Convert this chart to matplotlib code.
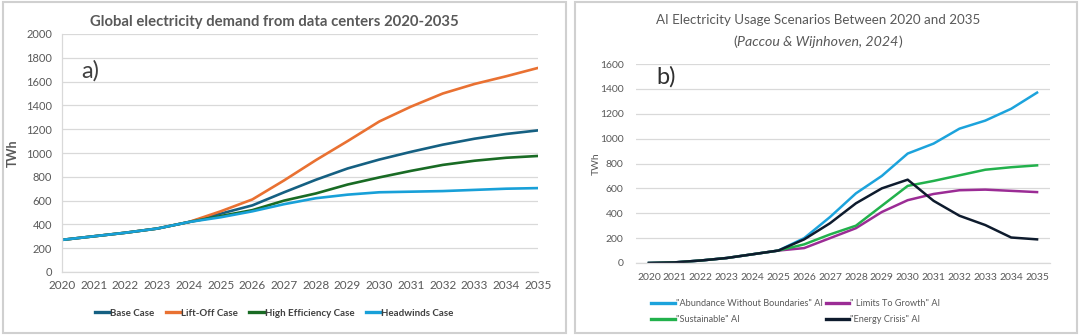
import matplotlib.pyplot as plt
from matplotlib.lines import Line2D
from matplotlib.patches import Rectangle

# --- panel a: data-center demand (TWh) ---
YEARS = list(range(2020, 2036))
BASE = [270, 300, 330, 365, 420, 490, 560, 670, 775, 870, 945, 1010, 1070, 1120, 1160, 1190]
LIFT_OFF = [270, 300, 330, 365, 420, 510, 610, 770, 940, 1100, 1265, 1390, 1500, 1580, 1645, 1715]
HIGH_EFF = [270, 300, 330, 365, 420, 470, 520, 600, 660, 735, 795, 850, 900, 935, 960, 975]
HEADWINDS = [270, 300, 330, 365, 420, 460, 510, 570, 620, 650, 670, 675, 680, 690, 700, 705]
A_LABELS = ["Base Case", "Lift-Off Case", "High Efficiency Case", "Headwinds Case"]

# --- panel b: AI usage scenarios (TWh) ---
ABUNDANCE = [0, 5, 20, 40, 70, 100, 200, 370, 560, 700, 880, 960, 1080, 1145, 1240, 1370]
LIMITS = [0, 5, 20, 40, 70, 100, 120, 200, 280, 410, 505, 555, 585, 590, 580, 570]
SUSTAINABLE = [0, 5, 20, 40, 70, 100, 150, 230, 300, 460, 620, 660, 705, 750, 770, 785]
CRISIS = [0, 5, 20, 40, 70, 100, 190, 320, 480, 600, 670, 500, 380, 305, 205, 190]
B_LABELS = ['"Abundance Without Boundaries" AI', '" Limits To Growth" AI',
            '"Sustainable" AI', '"Energy Crisis" AI']

A_COLORS = ["#156082", "#E97132", "#196B24", "#18A0D8"]
B_COLORS = ["#1CA3DC", "#9B2C95", "#22B14C", "#0E1B2D"]
GRID = "#d9d9d9"
TXT = "#595959"

plt.rcParams["font.family"] = ["Lato", "DejaVu Sans"]

fig = plt.figure(figsize=(10.8, 3.36), dpi=100)
fig.patch.set_facecolor("white")

# panel frames
for x0, w in [(0.003, 0.521), (0.532, 0.465)]:
    fig.add_artist(Rectangle((x0, 0.008), w, 0.985, transform=fig.transFigure,
                             fill=False, edgecolor="#d0d0d0", linewidth=1.5))

# ---------- panel a ----------
ax = fig.add_axes([62 / 1080, 1 - 272 / 336, 476 / 1080, 238 / 336])
for ys, c in zip([BASE, LIFT_OFF, HIGH_EFF, HEADWINDS], A_COLORS):
    ax.plot(YEARS, ys, color=c, lw=1.9, solid_capstyle="round")
ax.set_xlim(2020, 2035)
ax.set_ylim(0, 2000)
ax.set_yticks(range(0, 2001, 200))
ax.set_xticks(YEARS)
ax.grid(axis="y", color=GRID, lw=0.9)
ax.set_axisbelow(True)
for s in ["top", "right"]:
    ax.spines[s].set_visible(False)
for s in ["left", "bottom"]:
    ax.spines[s].set_color(GRID)
    ax.spines[s].set_linewidth(0.9)
ax.tick_params(axis="x", length=0, labelsize=8.5, labelcolor=TXT, pad=6)
ax.tick_params(axis="y", length=0, labelsize=8, labelcolor=TXT, pad=7)
ax.set_ylabel("TWh", fontsize=9, fontweight="bold", color=TXT)
ax.yaxis.set_label_coords(-0.09, 0.5)
ax.set_title("Global electricity demand from data centers 2020-2035",
             fontsize=10.7, fontweight="bold", color=TXT, pad=6, x=0.447)
ax.text(0.040, 0.845, "a)", transform=ax.transAxes, fontsize=17,
        color="#404040", ha="left", va="center")
handles_a = [Line2D([0], [0], color=c, lw=2.4) for c in A_COLORS]
fig.legend(handles_a, A_LABELS, loc="center", bbox_to_anchor=(0.254, 0.068),
           ncol=4, frameon=False, handlelength=1.6, handletextpad=0.0,
           columnspacing=1.15, prop={"size": 7, "weight": "bold"},
           labelcolor="#404040")

# ---------- panel b ----------
bx = fig.add_axes([636 / 1080, 1 - 263 / 336, 414 / 1080, 199 / 336])
for ys, c in zip([ABUNDANCE, LIMITS, SUSTAINABLE, CRISIS], B_COLORS):
    bx.plot(YEARS, ys, color=c, lw=1.8)
bx.set_xlim(2019.5, 2035.5)
bx.set_ylim(0, 1600)
bx.set_yticks(range(0, 1601, 200))
bx.set_xticks(YEARS)
bx.grid(axis="y", color=GRID, lw=0.9)
bx.set_axisbelow(True)
for s in ["top", "right", "left"]:
    bx.spines[s].set_visible(False)
bx.spines["bottom"].set_color(GRID)
bx.spines["bottom"].set_linewidth(0.9)
bx.tick_params(length=0, labelsize=7.5, labelcolor=TXT, pad=7)
bx.tick_params(axis="y", pad=9)
bx.set_ylabel("TWh", fontsize=7.5, color=TXT)
bx.yaxis.set_label_coords(-0.085, 0.5)
fig.text(818 / 1080, 1 - 20 / 336, "AI Electricity Usage Scenarios Between 2020 and 2035",
         fontsize=9.6, color=TXT, ha="center", va="center")

# subtitle: italic citation wrapped in upright parentheses
cite = fig.text(818 / 1080, 1 - 42 / 336, "Paccou & Wijnhoven, 2024", fontsize=10.2,
                style="italic", color=TXT, ha="center", va="center")
fig.canvas.draw()
bb = cite.get_window_extent().transformed(fig.transFigure.inverted())
fig.text(bb.x0, 1 - 42 / 336, "(", fontsize=10.2, color=TXT, ha="right", va="center")
fig.text(bb.x1, 1 - 42 / 336, ")", fontsize=10.2, color=TXT, ha="left", va="center")

bx.text(0.05, 0.935, "b)", transform=bx.transAxes, fontsize=17,
        color="#303030", ha="left", va="center")
handles_b = [Line2D([0], [0], color=c, lw=2.4) for c in B_COLORS]
order = [0, 2, 1, 3]
fig.legend([handles_b[i] for i in order], [B_LABELS[i] for i in order],
           loc="upper left", bbox_to_anchor=(643 / 1080, 1 - 291 / 336),
           ncol=2, frameon=False, handlelength=2.6, handletextpad=0.1,
           columnspacing=0.3, labelspacing=0.75, prop={"size": 6.6},
           labelcolor=TXT)

fig.savefig("out.png", dpi=100, facecolor="white")
